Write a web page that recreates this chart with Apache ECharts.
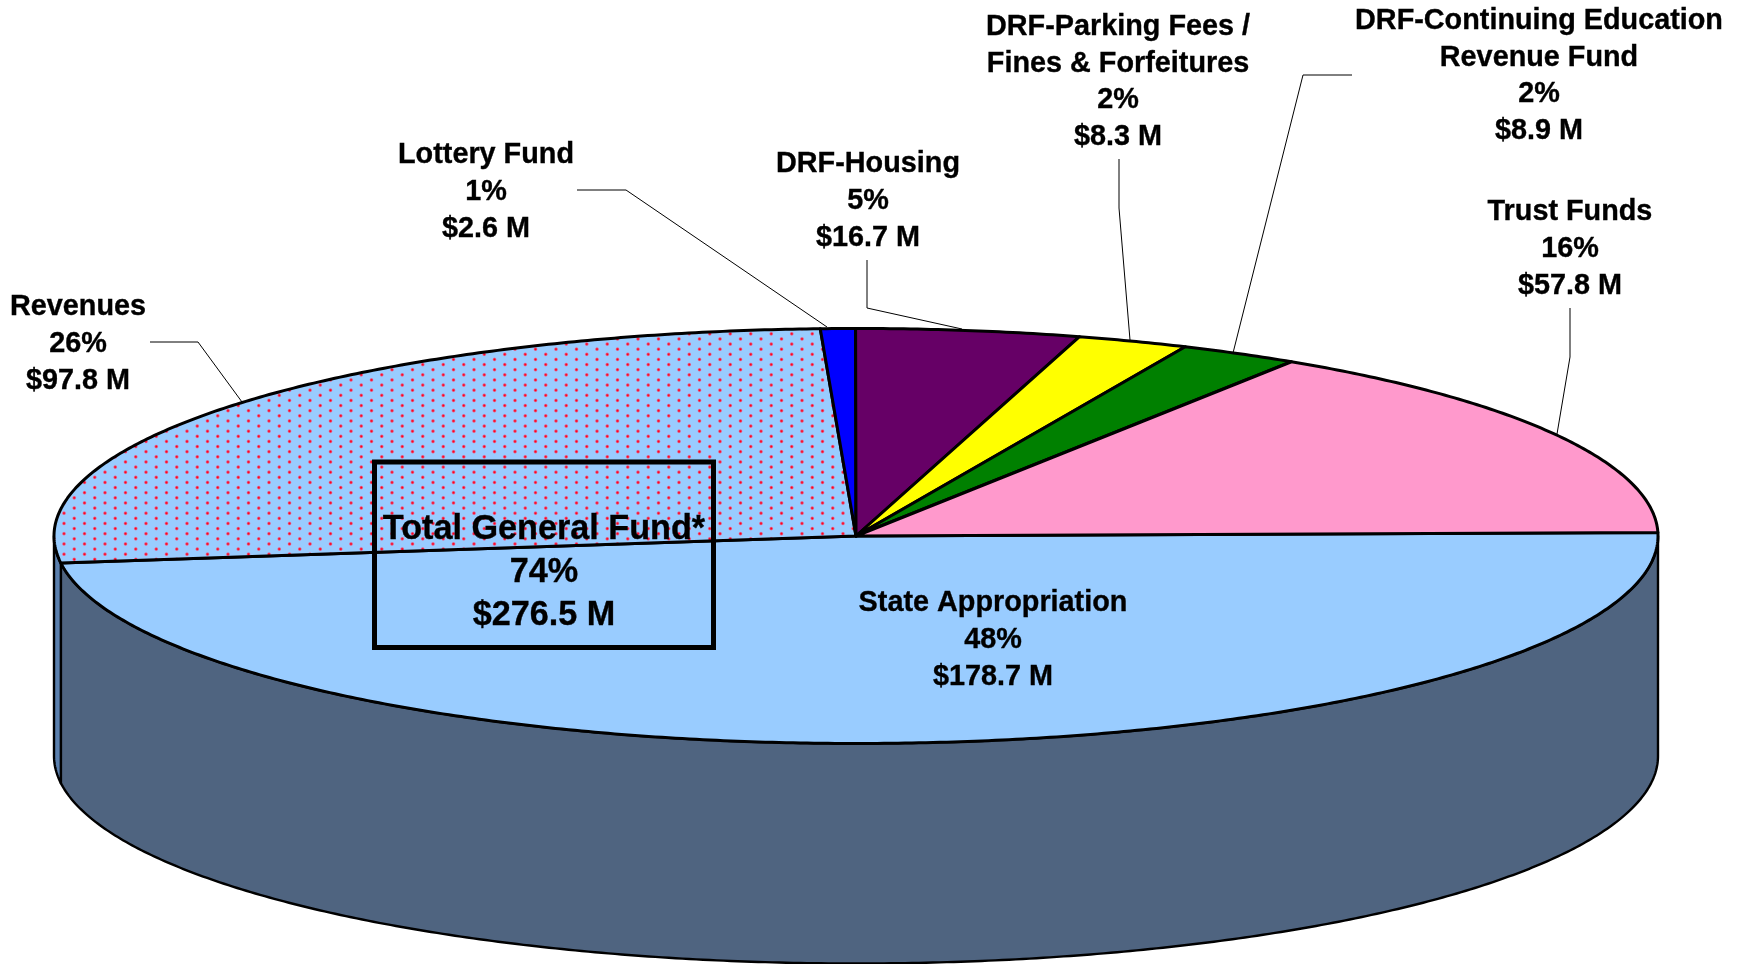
<!DOCTYPE html>
<html>
<head>
<meta charset="utf-8">
<style>html,body{margin:0;padding:0;background:#fff}#chart{width:1745px;height:964px}</style>
<script src="https://cdn.jsdelivr.net/npm/echarts@6/dist/echarts.min.js"></script>
</head>
<body>
<div id="chart"></div>
<script>
// ---- data ----
const categories = ['State Appropriation', 'Revenues', 'Lottery Fund', 'DRF-Housing',
  'DRF-Parking Fees /\nFines & Forfeitures', 'DRF-Continuing Education\nRevenue Fund', 'Trust Funds'];
const amounts = [178.7, 97.8, 2.6, 16.7, 8.3, 8.9, 57.8];
const percents = [48, 26, 1, 5, 2, 2, 16];
const totalName = 'Total General Fund*';
const totalPercent = 74;
const totalAmount = 276.5;

// ---- styling and layout ----
const topColors = ['#99CCFF', null, '#0000FF', '#660066', '#FFFF00', '#008000', '#FF99CC'];
const sideColors = ['#4F6480', '#5B80AE', '#00007F', '#330033', '#7F7F00', '#004000', '#7F4C66'];
const cx = 856, cy = 536, rx = 802, ry = 207.5, depth = 220, startDeg = -1.0;
const labelCentres = [[993, 640], [78, 344], [486, 192], [868, 201], [1118, 82], [1539, 76], [1570, 249]];
const leaders = [
  null,
  [[150, 342], [198, 342], [242, 402]],
  [[577, 190], [626, 190], [827, 327]],
  [[867, 260], [867, 308], [962, 329]],
  [[1119, 159], [1119, 208], [1130, 340]],
  [[1352, 75], [1303, 75], [1233, 353]],
  [[1570, 308], [1570, 357], [1557, 434]]
];
const font = '"Liberation Sans", Arial, Helvetica, sans-serif';

function dotPattern() {
  const size = 205, stepX = 20.5, stepY = 5.125, ox = 2.5, oy = 0.7;
  const c = document.createElement('canvas');
  c.width = size; c.height = size;
  const g = c.getContext('2d');
  g.fillStyle = '#99CCFF';
  g.fillRect(0, 0, size, size);
  for (let r = -1; r <= 40; r++) {
    for (let k = -1; k <= 10; k++) {
      const x = ox + k * stepX + (r % 2 ? stepX / 2 : 0), y = oy + r * stepY;
      const grad = g.createRadialGradient(x, y, 0.3, x, y, 2.4);
      grad.addColorStop(0, 'rgba(255,0,30,1)');
      grad.addColorStop(0.4, 'rgba(255,30,60,0.8)');
      grad.addColorStop(1, 'rgba(240,110,170,0)');
      g.fillStyle = grad;
      g.beginPath(); g.arc(x, y, 2.4, 0, Math.PI * 2); g.fill();
    }
  }
  return c;
}
const revenueFill = { image: dotPattern(), repeat: 'repeat' };

const total = amounts.reduce((a, b) => a + b, 0);
const starts = [];
amounts.reduce((acc, v, i) => { starts[i] = acc; return acc + v / total * 360; }, startDeg);

function rimPoints(a0, a1, dy) {
  const pts = [], n = Math.max(2, Math.ceil((a1 - a0) * 2));
  for (let i = 0; i <= n; i++) {
    const t = (a0 + (a1 - a0) * i / n) * Math.PI / 180;
    pts.push([cx + rx * Math.cos(t), cy + dy + ry * Math.sin(t)]);
  }
  return pts;
}

function renderSide(params, api) {
  const i = params.dataIndex;
  const a0 = Math.max(starts[i], 0), a1 = Math.min(starts[i] + api.value(0) / total * 360, 180);
  if (a1 <= a0) return { type: 'group', children: [] };
  const points = rimPoints(a0, a1, 0).concat(rimPoints(a0, a1, depth).reverse());
  return { type: 'polygon', shape: { points },
    style: { fill: sideColors[i], stroke: '#000', lineWidth: 2.4, lineJoin: 'round' } };
}

function renderTop(params, api) {
  const i = params.dataIndex;
  const a0 = starts[i], a1 = a0 + api.value(0) / total * 360;
  const points = [[cx, cy]].concat(rimPoints(a0, a1, 0));
  return { type: 'polygon', shape: { points },
    style: { fill: topColors[i] || revenueFill, stroke: '#000', lineWidth: 3, lineJoin: 'round' } };
}

const money = v => '$' + v.toFixed(1) + ' M';
const graphics = [];
categories.forEach((name, i) => {
  graphics.push({ type: 'text', z: 100, x: labelCentres[i][0], y: labelCentres[i][1], silent: true,
    style: { text: name + '\n' + percents[i] + '%\n' + money(amounts[i]), align: 'center', verticalAlign: 'middle',
      fontFamily: font, fontSize: 28.8, fontWeight: 'bold', lineHeight: 36.7, fill: '#000',
      stroke: '#000', lineWidth: 0.35 } });
  if (leaders[i]) {
    graphics.push({ type: 'polyline', z: 90, silent: true, shape: { points: leaders[i] },
      style: { stroke: '#000', lineWidth: 1, fill: null } });
  }
});
graphics.push({ type: 'rect', z: 95, silent: true, shape: { x: 374.5, y: 462, width: 339, height: 185.5 },
  style: { fill: null, stroke: '#000', lineWidth: 5 } });
graphics.push({ type: 'text', z: 100, x: 544, y: 573, silent: true,
  style: { text: totalName + '\n' + totalPercent + '%\n' + money(totalAmount), align: 'center', verticalAlign: 'middle',
    fontFamily: font, fontSize: 34.2, fontWeight: 'bold', lineHeight: 43, fill: '#000',
    stroke: '#000', lineWidth: 0.35 } });

const seriesData = amounts.map((v, i) => ({ name: categories[i], value: [v] }));
const chart = echarts.init(document.getElementById('chart'), null, { renderer: 'canvas' });
chart.setOption({
  animation: false,
  backgroundColor: '#fff',
  tooltip: { show: false },
  series: [
    { type: 'custom', coordinateSystem: 'none', z: 1, silent: true, clip: false, renderItem: renderSide, data: seriesData },
    { type: 'custom', coordinateSystem: 'none', z: 2, silent: true, clip: false, renderItem: renderTop, data: seriesData }
  ],
  graphic: { elements: graphics }
});
</script>
</body>
</html>
